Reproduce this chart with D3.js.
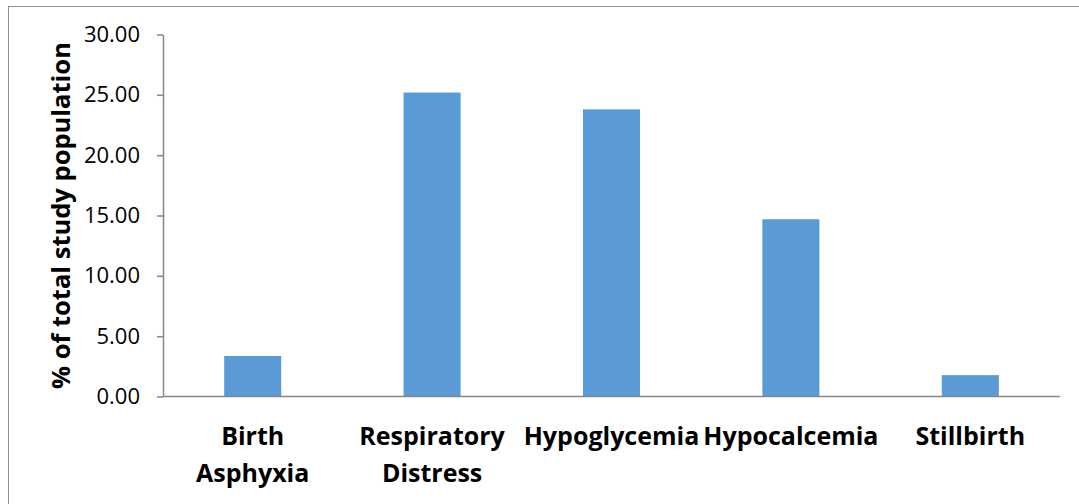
<!DOCTYPE html>
<html>
<head>
<meta charset="utf-8">
<script src="https://cdn.jsdelivr.net/npm/d3@7"></script>
<style>
  html, body { margin: 0; padding: 0; background: #fff; }
  svg { display: block; }
  text { font-family: "Open Sans", Lato, sans-serif; fill: #000; }
</style>
</head>
<body>
<svg id="chart" width="1079" height="504"></svg>
<script>
// Neonatal outcomes as share of the study population
const categories = [["Birth", "Asphyxia"], ["Respiratory", "Distress"], ["Hypoglycemia"], ["Hypocalcemia"], ["Stillbirth"]];
const values = [3.36, 25.19, 23.80, 14.69, 1.77];
const yTicks = [0, 5, 10, 15, 20, 25, 30];
const yTitle = "% of total study population";

const svg = d3.select("#chart");
const W = 1079, H = 504;
const m = { left: 163, right: 1060, top: 34.5, bottom: 396.5 };

// outer chart frame
svg.append("rect")
  .attr("x", 8.5).attr("y", 6.5)
  .attr("width", W + 10).attr("height", H + 10)
  .attr("fill", "none").attr("stroke", "#8f8f8f").attr("stroke-width", 1);

const keys = categories.map((c, i) => i);
const x = d3.scaleBand().domain(keys).range([m.left, m.right])
  .paddingInner(0.682).paddingOuter(0.341);
const y = d3.scaleLinear().domain([0, 30]).range([m.bottom, m.top]);

// bars
svg.append("g").selectAll("rect").data(values).join("rect")
  .attr("x", (d, i) => x(i))
  .attr("y", d => y(d))
  .attr("width", x.bandwidth())
  .attr("height", d => y(0) - y(d))
  .attr("fill", "#5b9bd5");

// y axis
const yAxis = svg.append("g")
  .attr("transform", `translate(${m.left},0)`)
  .call(d3.axisLeft(y).tickValues(yTicks).tickFormat(d3.format(".2f")).tickSize(6).tickSizeOuter(0).tickPadding(17));
yAxis.select(".domain").attr("stroke", "#868686").attr("stroke-width", 1.5);
yAxis.selectAll(".tick line").attr("stroke", "#868686").attr("stroke-width", 1.5);
yAxis.selectAll(".tick text")
  .style("font-family", "'Open Sans', Lato, sans-serif")
  .style("font-size", "22px").attr("fill", "#000");

// x axis baseline
svg.append("line")
  .attr("x1", m.left).attr("x2", m.right)
  .attr("y1", y(0)).attr("y2", y(0))
  .attr("stroke", "#868686").attr("stroke-width", 1.5);

// category labels
const lbl = svg.append("g").selectAll("text").data(categories).join("text")
  .attr("text-anchor", "middle")
  .style("font-size", "25px").style("font-weight", "bold");
lbl.each(function(lines, i) {
  const t = d3.select(this);
  lines.forEach((s, j) => {
    t.append("tspan")
      .attr("x", x(i) + x.bandwidth() / 2)
      .attr("y", 445 + j * 36.5)
      .text(s);
  });
});

// y axis title
svg.append("text")
  .attr("transform", `translate(70,${(m.top + m.bottom) / 2}) rotate(-90)`)
  .attr("text-anchor", "middle")
  .style("font-size", "25.5px").style("font-weight", "bold")
  .text(yTitle);
</script>
</body>
</html>
